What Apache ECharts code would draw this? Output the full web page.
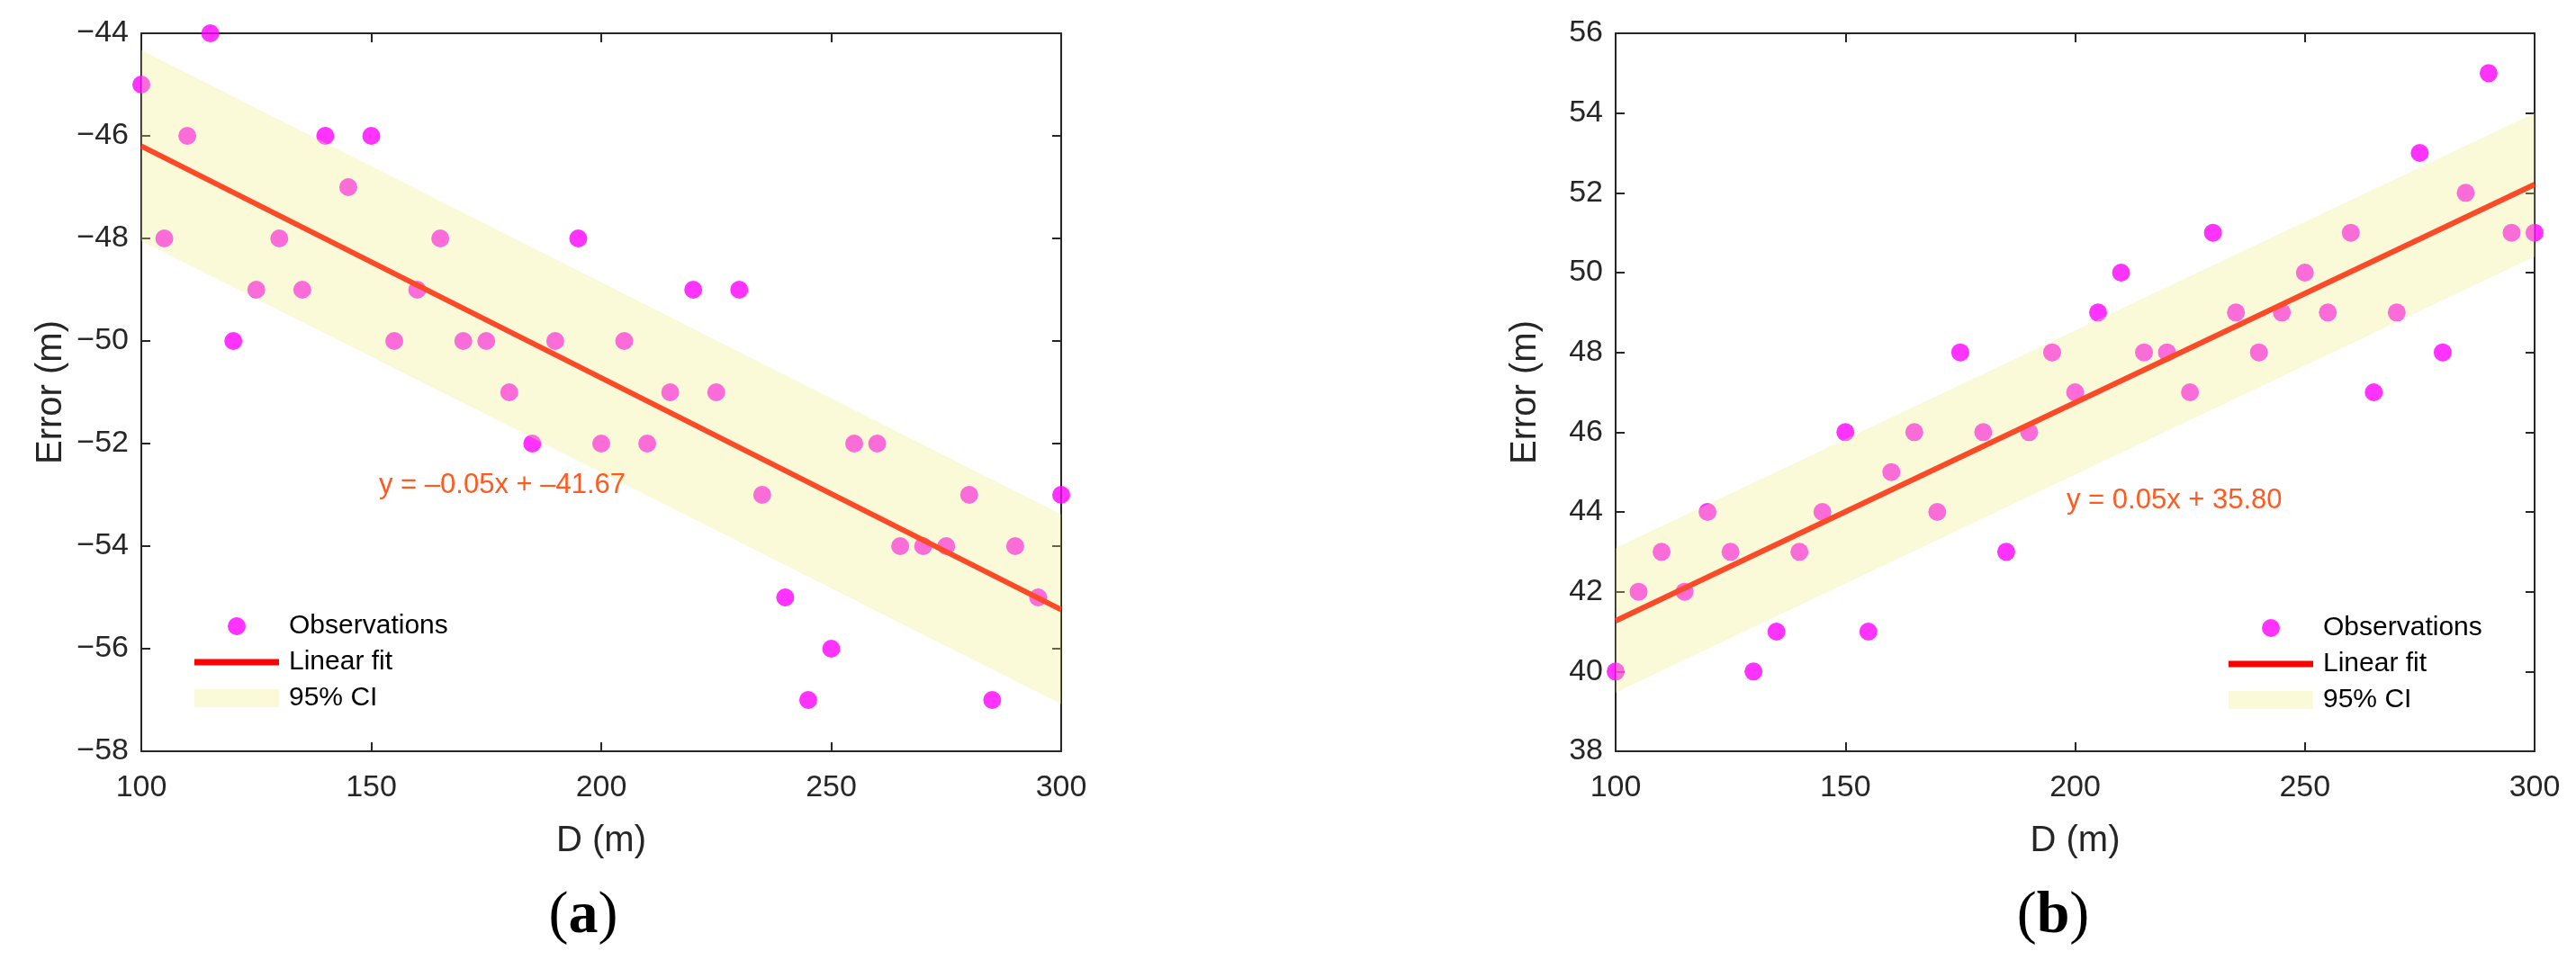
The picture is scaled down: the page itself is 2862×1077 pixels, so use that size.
<!DOCTYPE html>
<html>
<head>
<meta charset="utf-8">
<script src="https://cdn.jsdelivr.net/npm/echarts@6/dist/echarts.min.js"></script>
<style>
  html, body { margin: 0; padding: 0; background: #fff; }
  #main { width: 2862px; height: 1077px; }
</style>
</head>
<body>
<div id="main"></div>
<script>
// distance D (m), shared by both panels
var distance = [100, 105, 110, 115, 120, 125, 130, 135, 140, 145, 150, 155, 160, 165, 170, 175, 180, 185, 190, 195,
                200, 205, 210, 215, 220, 225, 230, 235, 240, 245, 250, 255, 260, 265, 270, 275, 280, 285, 290, 295, 300];
// panel (a) observations
var errorA = [-45, -48, -46, -44, -50, -49, -48, -49, -46, -47, -46, -50, -49, -48, -50, -50, -51, -52, -50, -48,
              -52, -50, -52, -51, -49, -51, -49, -53, -55, -57, -56, -52, -52, -54, -54, -54, -53, -57, -54, -55, -53];
// panel (b) observations
var errorB = [40, 42, 43, 42, 44, 43, 40, 41, 43, 44, 46, 41, 45, 46, 44, 48, 46, 43, 46, 48,
              47, 49, 50, 48, 48, 47, 51, 49, 48, 49, 50, 49, 51, 47, 49, 53, 48, 52, 55, 51, 51];

// fit line and 95% CI edges, read at the two ends of the range
var fitX = [100, 300];
var fitA = [-46.2, -55.24];
var ciUpperA = [-44.33, -53.38];
var ciLowerA = [-48.05, -57.08];
var fitB = [41.27, 52.21];
var ciUpperB = [43.1, 54.0];
var ciLowerB = [39.47, 50.4];

var xTicks = [100, 150, 200, 250, 300];
var yTicksA = [-58, -44];
var yTicksB = [38, 56];

var bandColor = 'rgba(240,240,130,0.31)';
var axisColor = '#262626';
var sans = '"Liberation Sans", Arial, Helvetica, sans-serif';

function pairs(xs, ys) {
  var out = [];
  for (var i = 0; i < xs.length; i++) out.push([xs[i], ys[i]]);
  return out;
}

function bandSeries(idx, upper, lower) {
  return {
    name: '95% CI',
    type: 'custom',
    xAxisIndex: idx * 2,
    yAxisIndex: idx * 2,
    z: 5,
    silent: true,
    itemStyle: { color: bandColor },
    data: pairs(fitX, upper),
    renderItem: function (params, api) {
      if (params.dataIndex !== 0) return null;
      var pts = [];
      for (var i = 0; i < fitX.length; i++) pts.push(api.coord([fitX[i], upper[i]]));
      for (var j = fitX.length - 1; j >= 0; j--) pts.push(api.coord([fitX[j], lower[j]]));
      return { type: 'polygon', shape: { points: pts }, style: { fill: bandColor } };
    }
  };
}

function xAxes(grid) {
  var base = {
    gridIndex: grid, type: 'value', min: xTicks[0], max: xTicks[xTicks.length - 1], interval: 50,
    axisLine: { show: true, onZero: false, lineStyle: { color: axisColor, width: 2 } },
    axisTick: { show: true, inside: true, length: 10, lineStyle: { color: axisColor, width: 2 } },
    splitLine: { show: false }
  };
  var bottom = Object.assign({}, base, {
    position: 'bottom',
    name: 'D (m)', nameLocation: 'middle', nameGap: 80,
    nameTextStyle: { color: axisColor, fontSize: 40, fontFamily: sans },
    axisLabel: { show: true, color: axisColor, fontSize: 34, fontFamily: sans, margin: 24 }
  });
  var top = Object.assign({}, base, { position: 'top', axisLabel: { show: false } });
  return [bottom, top];
}

function yAxes(grid, ticks) {
  var base = {
    gridIndex: grid, type: 'value', min: ticks[0], max: ticks[1], interval: 2,
    axisLine: { show: true, onZero: false, lineStyle: { color: axisColor, width: 2 } },
    axisTick: { show: true, inside: true, length: 10, lineStyle: { color: axisColor, width: 2 } },
    splitLine: { show: false }
  };
  var left = Object.assign({}, base, {
    position: 'left',
    name: 'Error (m)', nameLocation: 'middle', nameGap: 80,
    nameTextStyle: { color: axisColor, fontSize: 40, fontFamily: sans },
    axisLabel: {
      show: true, color: axisColor, fontSize: 34, fontFamily: sans, margin: 14,
      formatter: function (v) { return String(v).replace('-', '\u2212'); }
    }
  });
  var right = Object.assign({}, base, { position: 'right', axisLabel: { show: false } });
  return [left, right];
}

function legendFor(left, top) {
  return {
    orient: 'vertical', left: left, top: top,
    itemWidth: 94, itemHeight: 20, itemGap: 10,
    selectedMode: false,
    textStyle: { color: '#000', fontSize: 30, fontFamily: sans, padding: [0, 0, 0, 6] },
    data: [
      { name: 'Observations', icon: 'circle' },
      { name: 'Linear fit', icon: 'path://M0,0L94,0L94,7L0,7Z', itemStyle: { color: '#FF0000' } },
      { name: '95% CI', icon: 'rect' }
    ]
  };
}

var myChart = echarts.init(document.getElementById('main'));
myChart.setOption({
  animation: false,
  backgroundColor: '#fff',
  grid: [
    { left: 157, top: 37, width: 1022, height: 798 },
    { left: 1795, top: 37, width: 1021, height: 798 }
  ],
  xAxis: xAxes(0).concat(xAxes(1)),
  yAxis: yAxes(0, yTicksA).concat(yAxes(1, yTicksB)),
  legend: [legendFor(211, 676), legendFor(2471, 678)],
  series: [
    {
      name: 'Observations', type: 'scatter', xAxisIndex: 0, yAxisIndex: 0,
      symbolSize: 20, z: 2, itemStyle: { color: '#FF00FF' }, data: pairs(distance, errorA)
    },
    {
      name: 'Linear fit', type: 'line', xAxisIndex: 0, yAxisIndex: 0, z: 3,
      symbol: 'none', showSymbol: false, lineStyle: { color: '#FF0000', width: 6 },
      itemStyle: { color: '#FF0000' }, data: pairs(fitX, fitA)
    },
    bandSeries(0, ciUpperA, ciLowerA),
    {
      name: 'Observations', type: 'scatter', xAxisIndex: 2, yAxisIndex: 2,
      symbolSize: 20, z: 2, itemStyle: { color: '#FF00FF' }, data: pairs(distance, errorB)
    },
    {
      name: 'Linear fit', type: 'line', xAxisIndex: 2, yAxisIndex: 2, z: 3,
      symbol: 'none', showSymbol: false, lineStyle: { color: '#FF0000', width: 6 },
      itemStyle: { color: '#FF0000' }, data: pairs(fitX, fitB)
    },
    bandSeries(1, ciUpperB, ciLowerB)
  ],
  graphic: [
    { type: 'text', x: 421, y: 539, z: 10,
      style: { text: 'y = \u20130.05x + \u201341.67', fill: '#FF5A1F', font: '31px ' + sans, verticalAlign: 'middle' } },
    { type: 'text', x: 2296, y: 556, z: 10,
      style: { text: 'y = 0.05x + 35.80', fill: '#FF5A1F', font: '31px ' + sans, verticalAlign: 'middle' } },
    { type: 'text', x: 648, y: 1019,
      style: {
        text: '{p|(}{b|a}{p|)}', align: 'center', verticalAlign: 'middle',
        rich: {
          p: { fontSize: 66, fontFamily: '"Liberation Serif", serif', fill: '#000' },
          b: { fontSize: 66, fontWeight: 'bold', fontFamily: '"Liberation Serif", serif', fill: '#000' }
        }
      } },
    { type: 'text', x: 2281, y: 1019,
      style: {
        text: '{p|(}{b|b}{p|)}', align: 'center', verticalAlign: 'middle',
        rich: {
          p: { fontSize: 66, fontFamily: '"Liberation Serif", serif', fill: '#000' },
          b: { fontSize: 66, fontWeight: 'bold', fontFamily: '"Liberation Serif", serif', fill: '#000' }
        }
      } }
  ]
});
</script>
</body>
</html>
